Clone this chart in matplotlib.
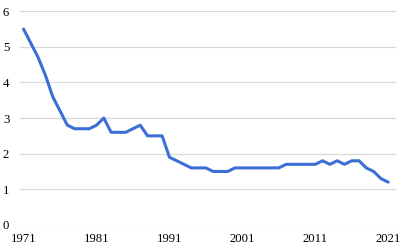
import matplotlib
matplotlib.use("Agg")
import matplotlib.pyplot as plt

years = list(range(1971, 2022))
values = [5.5, 5.1, 4.7, 4.2, 3.6, 3.2, 2.8, 2.7, 2.7, 2.7,
          2.8, 3.0, 2.6, 2.6, 2.6, 2.7, 2.8, 2.5, 2.5, 2.5,
          1.9, 1.8, 1.7, 1.6, 1.6, 1.6, 1.5, 1.5, 1.5, 1.6,
          1.6, 1.6, 1.6, 1.6, 1.6, 1.6, 1.7, 1.7, 1.7, 1.7,
          1.7, 1.8, 1.7, 1.8, 1.7, 1.8, 1.8, 1.6, 1.5, 1.3,
          1.2]
xticks = [1971, 1981, 1991, 2001, 2011, 2021]
yticks = [0, 1, 2, 3, 4, 5, 6]

plt.rcParams['font.family'] = ['Liberation Serif', 'DejaVu Serif']

fig = plt.figure(figsize=(4.06, 2.52), dpi=100)
ax = fig.add_axes([0.050, 0.107, 0.925, 0.849])
ax.plot(years, values, color='#3b6fd6', linewidth=2.2, solid_joinstyle='round',
        solid_capstyle='round', zorder=3)
ax.set_xlim(1970.55, 2022.05)
ax.set_ylim(-0.005, 6.005)
ax.set_xticks(xticks)
ax.set_xticklabels([str(t) for t in xticks])
ax.set_yticks(yticks)
ax.set_yticklabels([str(t) for t in yticks])
ax.grid(axis='y', color='#d9d9d9', linewidth=0.9)
ax.set_axisbelow(True)
for s in ax.spines.values():
    s.set_visible(False)
ax.tick_params(axis='both', length=0, labelsize=9.2, colors='black')
ax.tick_params(axis='y', pad=8)
ax.tick_params(axis='x', pad=6)
fig.savefig('out.png', dpi=100)
